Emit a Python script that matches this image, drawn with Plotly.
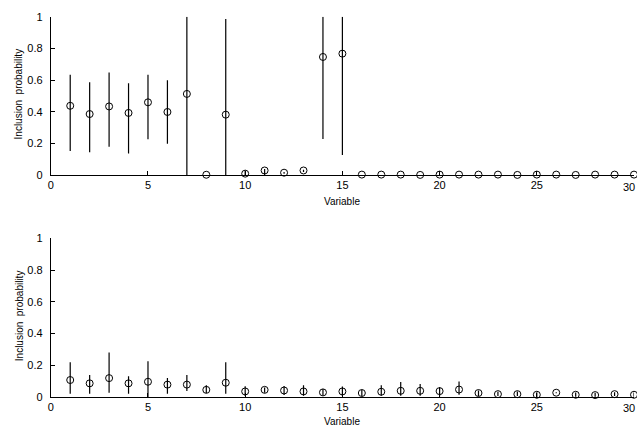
import plotly.graph_objects as go

variables = list(range(1, 31))

# Top panel: inclusion probability, upper and lower bounds
top_mean = [0.438, 0.386, 0.434, 0.393, 0.460, 0.399, 0.513, 0.003, 0.382, 0.010,
            0.030, 0.016, 0.030, 0.746, 0.767, 0.004, 0.004, 0.004, 0.002, 0.004,
            0.004, 0.004, 0.004, 0.002, 0.004, 0.004, 0.002, 0.004, 0.004, 0.004]
top_upper = [0.634, 0.587, 0.648, 0.581, 0.634, 0.599, 1.000, 0.003, 0.986, 0.030,
             0.040, 0.020, 0.035, 1.000, 1.000, 0.004, 0.004, 0.004, 0.002, 0.004,
             0.004, 0.004, 0.004, 0.002, 0.004, 0.004, 0.002, 0.004, 0.004, 0.004]
top_lower = [0.153, 0.145, 0.180, 0.137, 0.227, 0.198, 0.000, 0.003, 0.000, 0.000,
             0.000, 0.010, 0.020, 0.229, 0.127, 0.004, 0.004, 0.004, 0.002, 0.004,
             0.004, 0.004, 0.004, 0.002, 0.004, 0.004, 0.002, 0.004, 0.004, 0.004]

# Bottom panel
bot_mean = [0.107, 0.086, 0.119, 0.086, 0.096, 0.078, 0.078, 0.045, 0.090, 0.035,
            0.045, 0.041, 0.035, 0.029, 0.035, 0.025, 0.033, 0.039, 0.039, 0.037,
            0.047, 0.025, 0.018, 0.018, 0.014, 0.027, 0.014, 0.012, 0.018, 0.014]
bot_upper = [0.219, 0.139, 0.280, 0.131, 0.225, 0.119, 0.139, 0.074, 0.219, 0.068,
             0.060, 0.070, 0.074, 0.050, 0.066, 0.045, 0.074, 0.094, 0.082, 0.061,
             0.098, 0.041, 0.033, 0.035, 0.030, 0.030, 0.028, 0.026, 0.030, 0.028]
bot_lower = [0.020, 0.020, 0.027, 0.020, 0.000, 0.020, 0.037, 0.025, 0.020, 0.006,
             0.027, 0.012, 0.008, 0.010, 0.006, 0.006, 0.008, 0.008, 0.008, 0.004,
             0.014, 0.006, 0.006, 0.006, 0.000, 0.024, 0.002, 0.002, 0.006, 0.002]

x_ticks = [0, 5, 10, 15, 20, 25, 30]
y_ticks = [0, 0.2, 0.4, 0.6, 0.8, 1]
y_tick_text = ["0", "0.2", "0.4", "0.6", "0.8", "1"]

FONT = "Liberation Sans, Arial, sans-serif"

fig = go.Figure()


def add_panel(mean, upper, lower, xa, ya):
    fig.add_trace(go.Scatter(
        x=variables, y=mean, mode="markers", xaxis=xa, yaxis=ya,
        marker=dict(symbol="circle-open", size=7, color="black", line=dict(width=1, color="black")),
        error_y=dict(type="data", symmetric=False,
                     array=[u - m for u, m in zip(upper, mean)],
                     arrayminus=[m - l for m, l in zip(mean, lower)],
                     width=0, thickness=1.2, color="black"),
        cliponaxis=False, showlegend=False,
    ))


add_panel(top_mean, top_upper, top_lower, "x", "y")
add_panel(bot_mean, bot_upper, bot_lower, "x2", "y2")

xdom = [48 / 637, 634 / 637]
axis_common = dict(showline=True, linecolor="black", linewidth=1, ticks="inside",
                   ticklen=4, tickcolor="black", showgrid=False, zeroline=False,
                   tickfont=dict(family=FONT, size=11, color="black"))

fig.update_layout(
    width=637, height=438,
    margin=dict(l=0, r=0, t=0, b=0),
    paper_bgcolor="white", plot_bgcolor="white",
    xaxis=dict(domain=xdom, range=[0, 30], tickvals=x_ticks, anchor="y", **axis_common),
    yaxis=dict(domain=[1 - 174 / 438, 1 - 11 / 438], range=[0, 1], tickvals=y_ticks,
               ticktext=y_tick_text, anchor="x", ticklabelstandoff=5, **axis_common),
    xaxis2=dict(domain=xdom, range=[0, 30], tickvals=x_ticks, anchor="y2", **axis_common),
    yaxis2=dict(domain=[1 - 402 / 438, 1 - 239 / 438], range=[0, 1], tickvals=y_ticks,
                ticktext=y_tick_text, anchor="x2", ticklabelstandoff=5, **axis_common),
)

ann_font = dict(family=FONT, size=10, color="black")
for y_px in (201, 427):
    fig.add_annotation(x=341 / 637, y=1 - y_px / 438, xref="paper", yref="paper",
                       text="Variable", showarrow=False, font=ann_font,
                       xanchor="center", yanchor="middle")
for y_px in (90, 318):
    fig.add_annotation(x=16 / 637, y=1 - y_px / 438, xref="paper", yref="paper",
                       text="Inclusion  probability", showarrow=False, font=ann_font,
                       textangle=-90, xanchor="center", yanchor="middle")
# x tick label "30" at the right edge, kept inside the page
for y_px in (186, 413):
    fig.add_annotation(x=30, y=1 - y_px / 438, xref="x", yref="paper",
                       text="30", showarrow=False, font=dict(family=FONT, size=11, color="black"),
                       xanchor="right", xshift=3, yanchor="middle")

fig.write_html("out.html")
